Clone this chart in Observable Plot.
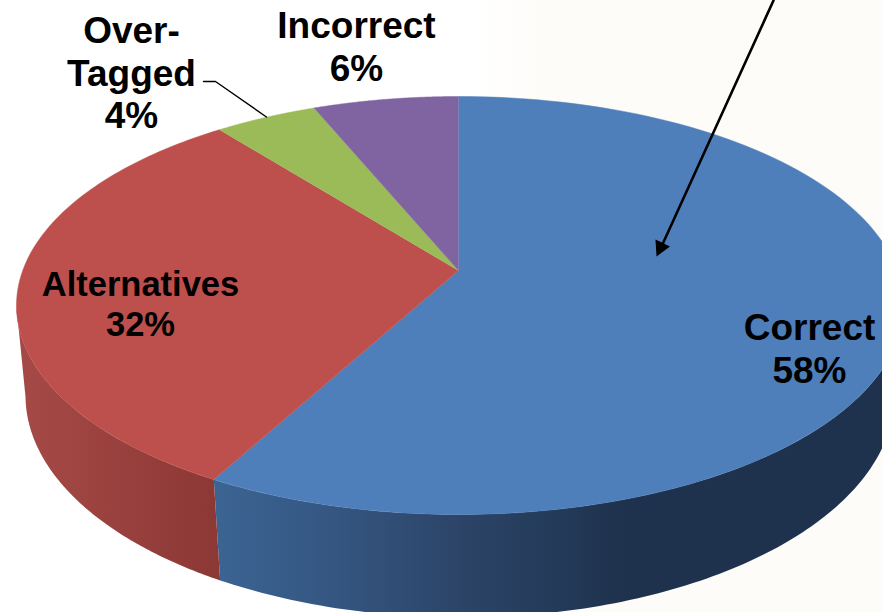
<!DOCTYPE html>
<html>
<head>
<meta charset="utf-8">
<script src="https://cdn.jsdelivr.net/npm/d3@7"></script>
<script src="https://cdn.jsdelivr.net/npm/@observablehq/plot@0.6"></script>
<style>
html,body{margin:0;padding:0;background:linear-gradient(90deg,#ffffff 0,#ffffff 470px,#fdfcf8 560px,#fdfcf8 100%);}
svg{display:block;background:transparent;}
</style>
</head>
<body>
<div id="chart"></div>
<script>
// Chart values (slices clockwise from 12 o'clock), as measured from the slice edges
const categories = ["Correct", "Alternatives", "Over-Tagged", "Incorrect"];
const shares = [57.95, 31.4, 4.4, 6.25];
// Percentages as printed on the labels
const printed = [58, 32, 4, 6];
const colors = ["#4e7fbb", "#bd4f4c", "#9bbb59", "#8064a2"];
const labelNames = ["Correct", "Alternatives", "Over-\nTagged", "Incorrect"];
const labelX = [809, 140, 131, 356];
const labelY = [347.5, 303, 71.5, 45.5];
const labelSize = [37, 34.5, 37, 37];

// Side shading, left to right
const redStops = [[26, "#a54946"], [215, "#8c3835"]];
const blueStops = [[216, "#3c6493"], [340, "#345580"], [470, "#2b4365"], [560, "#233a59"], [620, "#1f324d"], [882, "#1f324d"]];

// Annotation lines
const arrowLine = [[773, 0], [661, 246]];
const arrowHead = [[656, 256], [655, 239], [669.5, 246]];
const leader = [[203, 81], [215, 81], [266, 116.5]];

// Perspective of the pie discs
const topDisc = {cx: 458, cy: 305, rxLeft: 442, rxRight: 445, ry: 209};
const bottomDisc = {cx: 461, cy: 395, rxLeft: 436, rxRight: 433, ry: 222};
const tilt = 35 / 209;
const apex = [458, 270];

function rim(disc, deg) {
  const t = deg * Math.PI / 180, u = Math.sin(t), v = -Math.cos(t);
  const w = 1 - tilt * v;
  const a = (u < 0 ? disc.rxLeft : disc.rxRight) * Math.sqrt(1 - tilt * tilt);
  return [disc.cx + a * u / w, disc.cy + (disc.ry * v - disc.ry * tilt) / w];
}
const arc = (disc, from, to) => d3.range(0, 121).map(i => rim(disc, from + (to - from) * i / 120));

const total = d3.sum(shares);
let acc = 0;
const spans = shares.map(s => { const a = acc; acc += s; return [a / total * 360, acc / total * 360]; });

const faces = categories.flatMap((c, i) => [apex, ...arc(topDisc, spans[i][0], spans[i][1])].map(p => ({c, x: p[0], y: p[1]})));
const sideOf = (from, to) => [...arc(topDisc, from, to), ...arc(bottomDisc, to, from)].map(p => ({x: p[0], y: p[1]}));
const blueSide = sideOf(100, spans[0][1]);
const redSide = sideOf(spans[1][0], 260);

const labels = categories.map((c, i) => ({
  text: `${labelNames[i]}\n${printed[i]}%`, x: labelX[i], y: labelY[i], size: labelSize[i]
}));

function gradients() {
  const defs = d3.create("svg:defs");
  [["redSide", redStops], ["blueSide", blueStops]].forEach(([id, stops]) => {
    const g = defs.append("linearGradient").attr("id", id).attr("gradientUnits", "userSpaceOnUse")
      .attr("x1", 0).attr("x2", 882).attr("y1", 0).attr("y2", 0);
    stops.forEach(([x, col]) => g.append("stop").attr("offset", x / 882).attr("stop-color", col));
  });
  return defs.node();
}

const px = {x: d => d[0], y: d => d[1]};
const chart = Plot.plot({
  width: 882, height: 612, margin: 0,
  x: {axis: null, domain: [0, 882]},
  y: {axis: null, domain: [612, 0]},
  color: {domain: categories, range: colors},
  style: {background: "transparent"},
  marks: [
    gradients,
    Plot.line(blueSide, {x: "x", y: "y", fill: "url(#blueSide)", stroke: "none"}),
    Plot.line(redSide, {x: "x", y: "y", fill: "url(#redSide)", stroke: "none"}),
    Plot.line(faces, {x: "x", y: "y", z: "c", fill: "c", stroke: "c", strokeWidth: 0.5}),
    Plot.line(leader, {...px, stroke: "#000", strokeWidth: 1.4}),
    Plot.line(arrowLine, {...px, stroke: "#000", strokeWidth: 2.6}),
    Plot.line(arrowHead, {...px, fill: "#000", stroke: "none"}),
    Plot.text(labels, {
      x: "x", y: "y", text: "text", fill: "#000", textAnchor: "middle",
      fontFamily: "Liberation Sans", fontWeight: "bold", fontSize: "size", lineHeight: 1.14
    })
  ]
});
document.getElementById("chart").append(chart);
</script>
</body>
</html>
